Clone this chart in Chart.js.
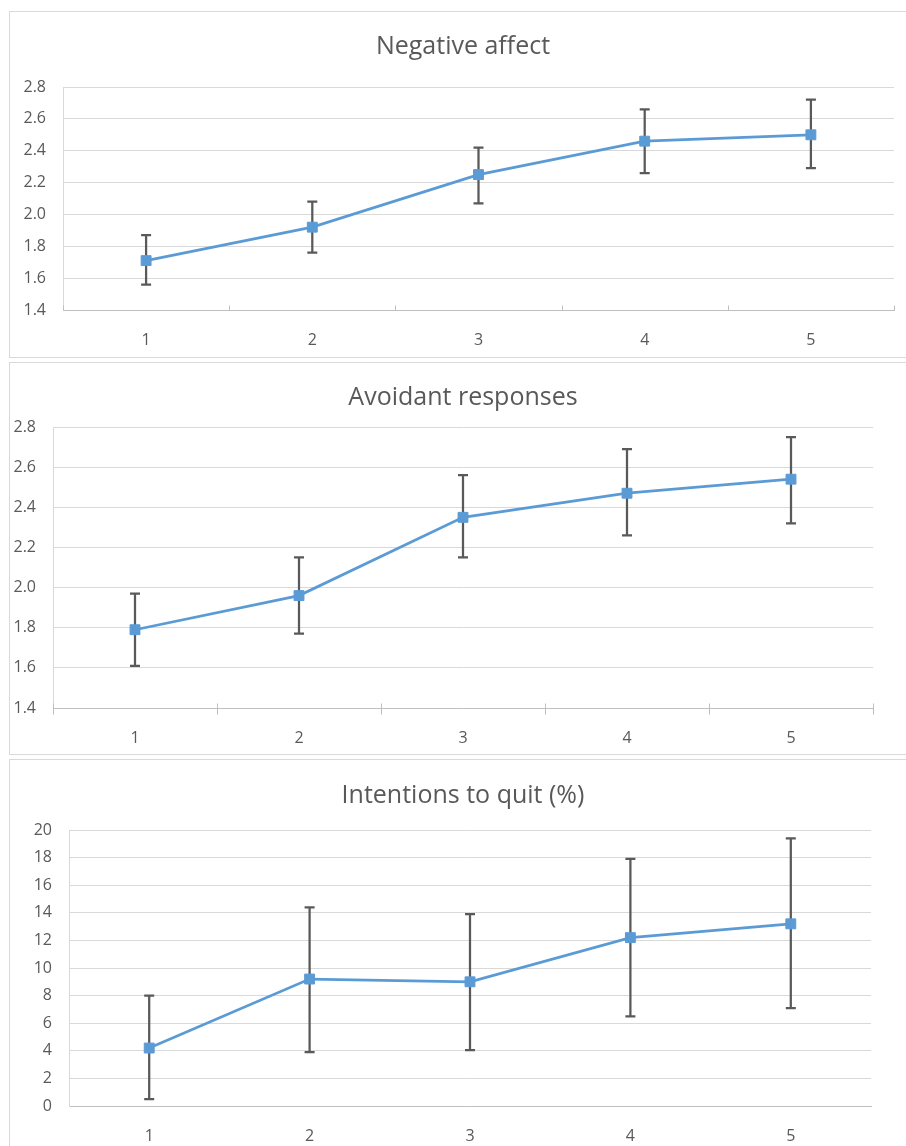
<!DOCTYPE html>
<html>
<head>
<meta charset="utf-8">
<script src="https://cdn.jsdelivr.net/npm/chart.js@4"></script>
<style>
	body { margin: 0; background: #fff; }
	.box { position: absolute; left: 9px; width: 920px; border: 1px solid #d9d9d9; background: #fff; }
	.box canvas { display: block; }
</style>
</head>
<body>
<div class="box" style="top:11px;height:345px;"><canvas id="chart_neg" width="906" height="345"></canvas></div>
<div class="box" style="top:362px;height:391px;"><canvas id="chart_avoid" width="906" height="391"></canvas></div>
<div class="box" style="top:759px;height:400px;"><canvas id="chart_quit" width="906" height="400"></canvas></div>
<script>
// categories (time points)
const categories = ['1', '2', '3', '4', '5'];

// Negative affect: mean and error bar ends
const negMean = [1.71, 1.92, 2.25, 2.46, 2.50];
const negLow = [1.56, 1.76, 2.07, 2.26, 2.29];
const negHigh = [1.87, 2.08, 2.42, 2.66, 2.72];

// Avoidant responses
const avoidMean = [1.79, 1.96, 2.35, 2.47, 2.54];
const avoidLow = [1.61, 1.77, 2.15, 2.26, 2.32];
const avoidHigh = [1.97, 2.15, 2.56, 2.69, 2.75];

// Intentions to quit (%)
const quitMean = [4.2, 9.2, 9.0, 12.2, 13.2];
const quitLow = [0.5, 3.9, 4.05, 6.5, 7.1];
const quitHigh = [8.0, 14.4, 13.9, 17.9, 19.4];

Chart.defaults.font.family = "'Open Sans', sans-serif";
Chart.defaults.color = '#595959';

// vertical error bars, drawn under the line and markers
const errorBars = {
	id: 'errorBars',
	beforeDatasetsDraw(chart, args, opts) {
		const { ctx, scales: { x, y } } = chart;
		const cap = 5;
		ctx.save();
		ctx.strokeStyle = '#595959';
		ctx.lineWidth = 2.25;
		opts.low.forEach(function (lo, i) {
			const px = x.getPixelForValue(i);
			const yl = y.getPixelForValue(lo);
			const yh = y.getPixelForValue(opts.high[i]);
			ctx.beginPath();
			ctx.moveTo(px, yl); ctx.lineTo(px, yh);
			ctx.moveTo(px - cap, yl); ctx.lineTo(px + cap, yl);
			ctx.moveTo(px - cap, yh); ctx.lineTo(px + cap, yh);
			ctx.stroke();
		});
		ctx.restore();
	}
};

// small tick marks between the categories on the x axis
const tickMarks = {
	id: 'tickMarks',
	afterDraw(chart, args, opts) {
		if (!opts.up && !opts.down) return;
		const { ctx, scales: { x } } = chart;
		const half = (x.getPixelForValue(1) - x.getPixelForValue(0)) / 2;
		const base = Math.round(x.top) + 0.5;
		ctx.save();
		ctx.strokeStyle = '#bfbfbf';
		ctx.lineWidth = 1;
		for (let i = 0; i <= categories.length; i++) {
			const px = Math.round(x.getPixelForValue(0) - half + i * half * 2) + 0.5;
			ctx.beginPath();
			ctx.moveTo(px, base - opts.up);
			ctx.lineTo(px, base + opts.down);
			ctx.stroke();
		}
		ctx.restore();
	}
};

function makeChart(id, title, mean, low, high, yMin, yMax, yStep, decimals, box) {
	const ctx = document.getElementById(id).getContext('2d');
	return new Chart(ctx, {
		type: 'line',
		data: {
			labels: categories,
			datasets: [{
				data: mean,
				borderColor: '#5b9bd5',
				backgroundColor: '#5b9bd5',
				borderWidth: 2.75,
				pointStyle: 'rect',
				pointRadius: 7,
				pointBorderWidth: 1,
				tension: 0,
				fill: false
			}]
		},
		options: {
			responsive: false,
			animation: false,
			layout: { padding: 0 },
			plugins: {
				legend: { display: false },
				tooltip: { enabled: false },
				title: {
					display: true,
					text: title,
					color: '#595959',
					font: { size: 25, weight: 'normal' },
					padding: { top: box.titleTop, bottom: box.titleBottom }
				},
				errorBars: { low: low, high: high },
				tickMarks: { up: box.up, down: box.down }
			},
			scales: {
				x: {
					offset: true,
					grid: { display: false },
					border: { color: '#bfbfbf', width: 1 },
					ticks: { font: { size: 16 }, padding: 13 },
					afterFit(s) { s.height = box.bottom; }
				},
				y: {
					min: yMin,
					max: yMax,
					grid: { color: '#d9d9d9', drawTicks: false },
					border: { color: '#d9d9d9' },
					ticks: {
						stepSize: yStep,
						font: { size: 16 },
						padding: 17,
						callback: function (value) { return value.toFixed(decimals); }
					},
					afterFit(s) { s.width = box.left; }
				},
				yr: {
					position: 'right',
					grid: { display: false },
					border: { display: false },
					ticks: { display: false },
					afterFit(s) { s.width = box.right; }
				}
			}
		},
		plugins: [errorBars, tickMarks]
	});
}

makeChart('chart_neg', 'Negative affect', negMean, negLow, negHigh, 1.4, 2.8, 0.2, 1,
	{ left: 53, right: 22, bottom: 47, titleTop: 20, titleBottom: 25, up: 5, down: 0 });
makeChart('chart_avoid', 'Avoidant responses', avoidMean, avoidLow, avoidHigh, 1.4, 2.8, 0.2, 1,
	{ left: 43, right: 43, bottom: 46, titleTop: 20, titleBottom: 14, up: 5, down: 6 });
makeChart('chart_quit', 'Intentions to quit (%)', quitMean, quitLow, quitHigh, 0, 20, 2, 0,
	{ left: 59, right: 45, bottom: 54, titleTop: 21, titleBottom: 19, up: 0, down: 0 });
</script>
</body>
</html>
